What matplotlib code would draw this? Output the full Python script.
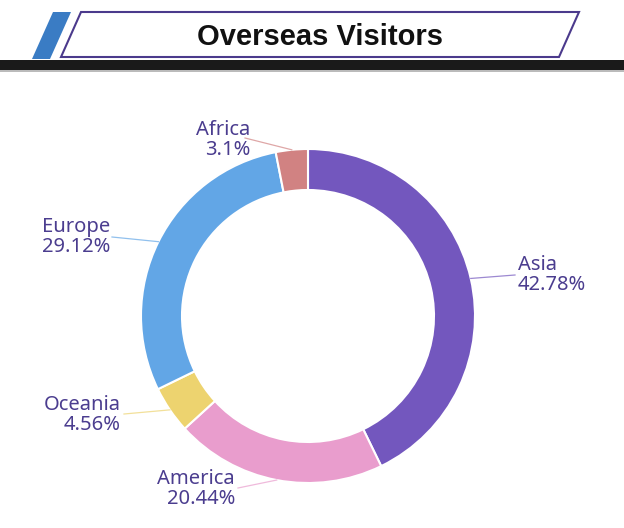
import numpy as np
import matplotlib.pyplot as plt
from matplotlib.patches import Polygon, Rectangle

# data
regions = ['Asia', 'America', 'Oceania', 'Europe', 'Africa']
shares = [42.78, 20.44, 4.56, 29.12, 3.1]
colors = ['#7357be', '#e99dcd', '#edd36f', '#62a6e6', '#d18282']
pct_labels = ['42.78%', '20.44%', '4.56%', '29.12%', '3.1%']

# label layout (pixel coords, y down): text anchor, alignment, line end point
label_pos = {
    'Asia': (518, 275, 'left', (515, 275)),
    'America': (235, 489, 'right', (238, 488)),
    'Oceania': (121, 415, 'right', (124, 414)),
    'Europe': (110, 237, 'right', (112, 237)),
    'Africa': (250, 140, 'right', (245, 138)),
}

text_color = '#4b3d8f'
cx, cy, r_out, ring_w = 308, 316, 167, 41

fig = plt.figure(figsize=(6.24, 5.28), dpi=100)
ax = fig.add_axes([0, 0, 1, 1])

# donut (y axis is flipped later, so start at -90 and go "counterclockwise")
wedges, _ = ax.pie(shares, colors=colors, startangle=-90, counterclock=True,
                   radius=r_out, center=(cx, cy),
                   wedgeprops=dict(width=ring_w, edgecolor='white', linewidth=1.5))

for w, name, pct in zip(wedges, regions, pct_labels):
    mid = np.deg2rad((w.theta1 + w.theta2) / 2)
    px = cx + r_out * np.cos(mid)
    py = cy + r_out * np.sin(mid)
    tx, ty, ha, (lx, ly) = label_pos[name]
    ax.plot([px, lx], [py, ly], color=w.get_facecolor(), lw=0.9, alpha=0.7)
    ax.text(tx, ty, name + '\n' + pct, ha=ha, va='center', color=text_color,
            fontsize=14.5, family='Noto Sans', linespacing=0.95)

# header banner
ax.add_patch(Polygon([(53, 12), (71, 12), (50, 59), (32, 59)], closed=True,
                     facecolor='#3a7cc4', edgecolor='none'))
ax.add_patch(Polygon([(81, 12), (579, 12), (559, 57), (61, 57)], closed=True,
                     facecolor='white', edgecolor='#4b3a8c', lw=1.5))
ax.text(320, 37, 'Overseas Visitors', ha='center', va='center', fontsize=21,
        fontweight='bold', family='Liberation Sans', color='#111111')
ax.add_patch(Rectangle((0, 60), 624, 10, facecolor='#1a1a1a', edgecolor='none'))
ax.add_patch(Rectangle((0, 70), 624, 1.5, facecolor='#bbbbbb', edgecolor='none'))

ax.set_xlim(0, 624)
ax.set_ylim(528, 0)
ax.set_aspect('equal')
ax.axis('off')

fig.savefig('out.png', dpi=100, facecolor='white')
